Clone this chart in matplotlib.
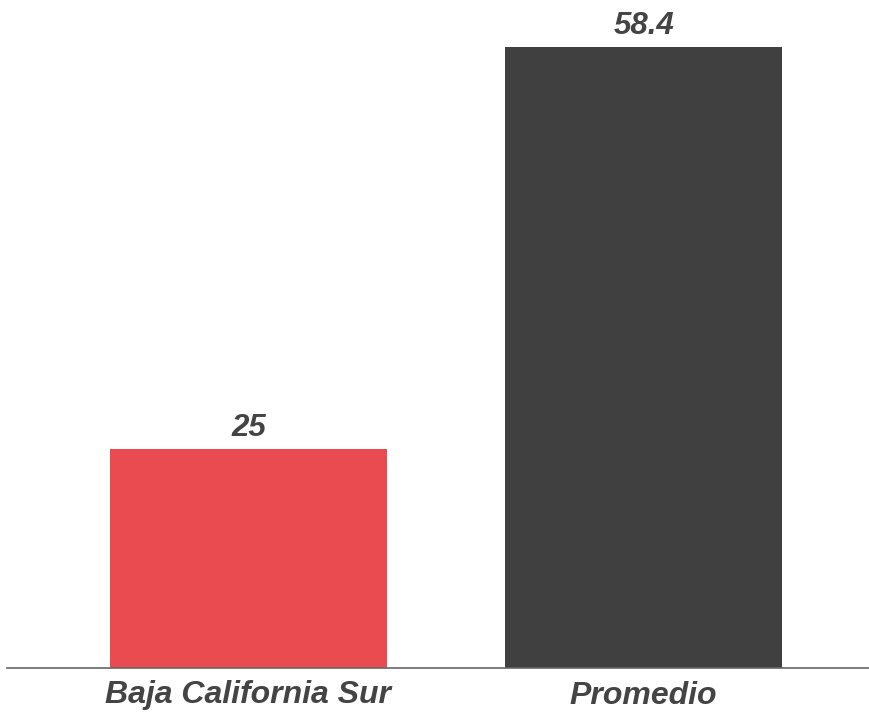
import matplotlib
matplotlib.use("Agg")
import matplotlib.pyplot as plt

categories = ["Baja California Sur", "Promedio"]
values = [25, 58.4]
value_labels = ["25", "58.4"]
colors = ["#EA4B51", "#404040"]

plt.rcParams['font.family'] = ['Liberation Sans', 'DejaVu Sans']

fig = plt.figure(figsize=(8.7, 7.12), dpi=100)
ax = fig.add_axes([7/870, 1 - 668/712, 1 - 7/870, (668 - 10)/712])

x = list(range(len(categories)))
bars = ax.bar(x, values, width=0.70, color=colors, zorder=2)
ax.set_xlim(-0.611, 1.573)
ax.set_ylim(6.8, 61.47)

for xi, v, lab in zip(x, values, value_labels):
    ax.annotate(lab, (xi, v), xytext=(0, 4), textcoords="offset points",
                ha="center", va="bottom", fontsize=22.5, fontweight="bold",
                fontstyle="italic", color="#444444")

ax.set_xticks(x)
ax.set_xticklabels(categories, fontsize=23, fontweight="bold", fontstyle="italic", color="#444444")
ax.tick_params(axis="x", length=0, pad=9)
ax.set_yticks([])
for s in ["top", "right", "left"]:
    ax.spines[s].set_visible(False)
ax.spines["bottom"].set_color("#666666")
ax.spines["bottom"].set_linewidth(1.2)

fig.savefig("out.png", dpi=100)
